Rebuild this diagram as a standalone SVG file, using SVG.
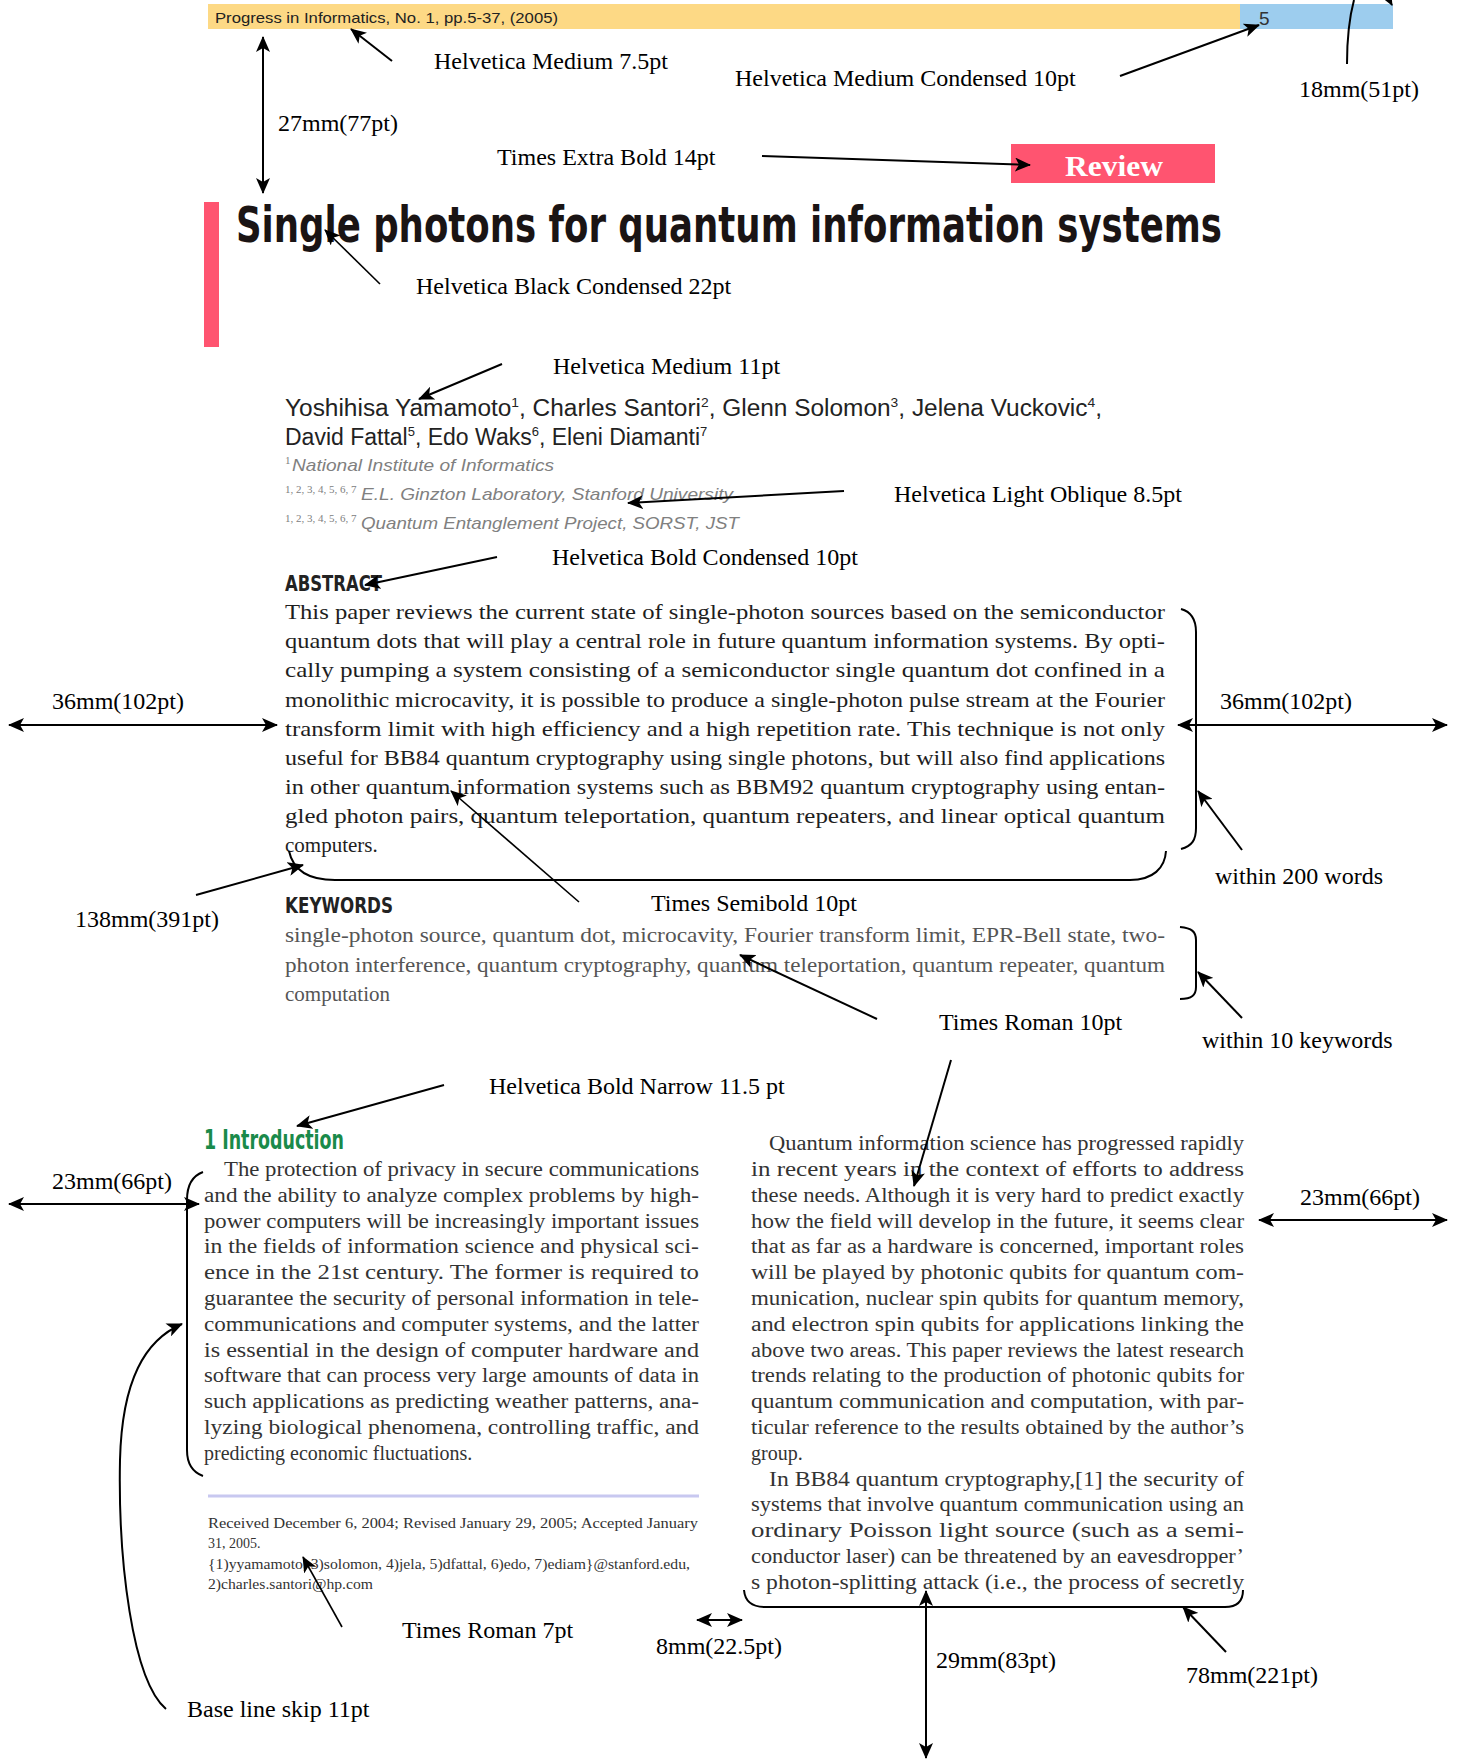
<svg xmlns="http://www.w3.org/2000/svg" width="1462" height="1760" viewBox="0 0 1462 1760">
<style>
.lbl{font-family:"Liberation Serif",serif;font-size:24px;fill:#000}
.ab{font-family:"Liberation Serif",serif;font-size:21px;fill:#1e1e1e}
.col{font-family:"Liberation Serif",serif;font-size:20px;fill:#333}
.kw{font-family:"Liberation Serif",serif;font-size:21px;fill:#555}
.fn{font-family:"Liberation Serif",serif;font-size:14px;fill:#333}
.hd{font-family:"Liberation Sans Narrow","DejaVu Sans Condensed","Liberation Sans",sans-serif;font-weight:bold}
.au{font-family:"Liberation Sans","Helvetica",sans-serif;font-size:23px;fill:#222}
.af{font-family:"Liberation Sans",sans-serif;font-size:17px;font-style:italic;fill:#808080}
.afn{font-family:"Liberation Serif",serif;font-size:11px;fill:#808080}
.ar{stroke:#000;stroke-width:2;fill:none;marker-end:url(#ah)}
.ar1{stroke:#000;stroke-width:1.6;fill:none;marker-end:url(#ah)}
.dbl{stroke:#000;stroke-width:2;fill:none;marker-start:url(#ah);marker-end:url(#ah)}
.br{stroke:#000;stroke-width:2;fill:none}
</style>
<defs>
<marker id="ah" markerUnits="userSpaceOnUse" markerWidth="18" markerHeight="14" refX="15" refY="7" orient="auto-start-reverse">
<path d="M0,0 L16,7 L0,14 L4,7 z" fill="#000"/>
</marker>
</defs>
<rect width="1462" height="1760" fill="#fff"/>

<g id="header">
<rect x="208" y="4" width="1032" height="25" fill="#fdd985"/>
<rect x="1240" y="4" width="153" height="25" fill="#9dcdee"/>
<text x="215" y="23" font-family="Liberation Sans,sans-serif" font-size="15" fill="#222" textLength="343" lengthAdjust="spacingAndGlyphs">Progress in Informatics, No. 1, pp.5-37, (2005)</text>
<text x="1259" y="25" font-family="Liberation Sans Narrow,Liberation Sans,sans-serif" font-size="19" fill="#333">5</text>
</g>

<g id="review">
<rect x="1011" y="144" width="204" height="39" fill="#ff5470"/>
<text x="1065" y="176" font-family="Liberation Serif,serif" font-weight="bold" font-size="30" fill="#fff" textLength="98" lengthAdjust="spacingAndGlyphs">Review</text>
</g>

<g id="title">
<rect x="204" y="202" width="15" height="145" fill="#ff5470"/>
<text class="hd" x="236" y="242" font-size="50" fill="#1a1414" textLength="986" lengthAdjust="spacingAndGlyphs">Single photons for quantum information systems</text>
</g>

<g id="authors">
<text class="au" x="285" y="416" textLength="817" lengthAdjust="spacingAndGlyphs">Yoshihisa Yamamoto<tspan font-size="13" dy="-9">1</tspan><tspan dy="9">, Charles Santori</tspan><tspan font-size="13" dy="-9">2</tspan><tspan dy="9">, Glenn Solomon</tspan><tspan font-size="13" dy="-9">3</tspan><tspan dy="9">, Jelena Vuckovic</tspan><tspan font-size="13" dy="-9">4</tspan><tspan dy="9">,</tspan></text>
<text class="au" x="285" y="445">David Fattal<tspan font-size="13" dy="-9">5</tspan><tspan dy="9">, Edo Waks</tspan><tspan font-size="13" dy="-9">6</tspan><tspan dy="9">, Eleni Diamanti</tspan><tspan font-size="13" dy="-9">7</tspan></text>
</g>

<g id="affiliations">
<text class="afn" x="285" y="464">1</text>
<text class="af" x="292" y="471" textLength="262" lengthAdjust="spacingAndGlyphs">National Institute of Informatics</text>
<text class="afn" x="285" y="493">1, 2, 3, 4, 5, 6, 7</text>
<text class="af" x="361" y="500" textLength="372" lengthAdjust="spacingAndGlyphs">E.L. Ginzton Laboratory, Stanford University</text>
<text class="afn" x="285" y="522">1, 2, 3, 4, 5, 6, 7</text>
<text class="af" x="361" y="529" textLength="378" lengthAdjust="spacingAndGlyphs">Quantum Entanglement Project, SORST, JST</text>
</g>

<g id="abstract">
<text class="hd" x="285" y="591" font-size="22" fill="#222" textLength="97" lengthAdjust="spacingAndGlyphs">ABSTRACT</text>
<text class="ab" x="285" y="619" textLength="880" lengthAdjust="spacingAndGlyphs">This paper reviews the current state of single-photon sources based on the semiconductor</text>
<text class="ab" x="285" y="648" textLength="880" lengthAdjust="spacingAndGlyphs">quantum dots that will play a central role in future quantum information systems. By opti-</text>
<text class="ab" x="285" y="677" textLength="880" lengthAdjust="spacingAndGlyphs">cally pumping a system consisting of a semiconductor single quantum dot confined in a</text>
<text class="ab" x="285" y="707" textLength="880" lengthAdjust="spacingAndGlyphs">monolithic microcavity, it is possible to produce a single-photon pulse stream at the Fourier</text>
<text class="ab" x="285" y="736" textLength="880" lengthAdjust="spacingAndGlyphs">transform limit with high efficiency and a high repetition rate. This technique is not only</text>
<text class="ab" x="285" y="765" textLength="880" lengthAdjust="spacingAndGlyphs">useful for BB84 quantum cryptography using single photons, but will also find applications</text>
<text class="ab" x="285" y="794" textLength="880" lengthAdjust="spacingAndGlyphs">in other quantum information systems such as BBM92 quantum cryptography using entan-</text>
<text class="ab" x="285" y="823" textLength="880" lengthAdjust="spacingAndGlyphs">gled photon pairs, quantum teleportation, quantum repeaters, and linear optical quantum</text>
<text class="ab" x="285" y="852">computers.</text>
</g>

<g id="keywords">
<text class="hd" x="285" y="913" font-size="22" fill="#222" textLength="108" lengthAdjust="spacingAndGlyphs">KEYWORDS</text>
<text class="kw" x="285" y="942" textLength="880" lengthAdjust="spacingAndGlyphs">single-photon source, quantum dot, microcavity, Fourier transform limit, EPR-Bell state, two-</text>
<text class="kw" x="285" y="972" textLength="880" lengthAdjust="spacingAndGlyphs">photon interference, quantum cryptography, quantum teleportation, quantum repeater, quantum</text>
<text class="kw" x="285" y="1001">computation</text>
</g>

<g id="intro-left">
<text class="hd" x="204" y="1149" font-size="26" fill="#1a8a4a" textLength="140" lengthAdjust="spacingAndGlyphs">1 Introduction</text>
<text class="col" x="224" y="1176" textLength="475" lengthAdjust="spacingAndGlyphs">The protection of privacy in secure communications</text>
<text class="col" x="204" y="1202" textLength="495" lengthAdjust="spacingAndGlyphs">and the ability to analyze complex problems by high-</text>
<text class="col" x="204" y="1228" textLength="495" lengthAdjust="spacingAndGlyphs">power computers will be increasingly important issues</text>
<text class="col" x="204" y="1253" textLength="495" lengthAdjust="spacingAndGlyphs">in the fields of information science and physical sci-</text>
<text class="col" x="204" y="1279" textLength="495" lengthAdjust="spacingAndGlyphs">ence in the 21st century. The former is required to</text>
<text class="col" x="204" y="1305" textLength="495" lengthAdjust="spacingAndGlyphs">guarantee the security of personal information in tele-</text>
<text class="col" x="204" y="1331" textLength="495" lengthAdjust="spacingAndGlyphs">communications and computer systems, and the latter</text>
<text class="col" x="204" y="1357" textLength="495" lengthAdjust="spacingAndGlyphs">is essential in the design of computer hardware and</text>
<text class="col" x="204" y="1382" textLength="495" lengthAdjust="spacingAndGlyphs">software that can process very large amounts of data in</text>
<text class="col" x="204" y="1408" textLength="495" lengthAdjust="spacingAndGlyphs">such applications as predicting weather patterns, ana-</text>
<text class="col" x="204" y="1434" textLength="495" lengthAdjust="spacingAndGlyphs">lyzing biological phenomena, controlling traffic, and</text>
<text class="col" x="204" y="1460">predicting economic fluctuations.</text>
</g>

<g id="footnote">
<line x1="208" y1="1496" x2="699" y2="1496" stroke="#c8c8f0" stroke-width="3"/>
<text class="fn" x="208" y="1528" textLength="490" lengthAdjust="spacingAndGlyphs">Received December 6, 2004; Revised January 29, 2005; Accepted January</text>
<text class="fn" x="208" y="1548">31, 2005.</text>
<text class="fn" x="208" y="1569" textLength="482" lengthAdjust="spacingAndGlyphs">{1)yyamamoto, 3)solomon, 4)jela, 5)dfattal, 6)edo, 7)ediam}@stanford.edu,</text>
<text class="fn" x="208" y="1589" textLength="165" lengthAdjust="spacingAndGlyphs">2)charles.santori@hp.com</text>
</g>

<g id="intro-right">
<text class="col" x="769" y="1150" textLength="475" lengthAdjust="spacingAndGlyphs">Quantum information science has progressed rapidly</text>
<text class="col" x="751" y="1176" textLength="493" lengthAdjust="spacingAndGlyphs">in recent years in the context of efforts to address</text>
<text class="col" x="751" y="1202" textLength="493" lengthAdjust="spacingAndGlyphs">these needs. Although it is very hard to predict exactly</text>
<text class="col" x="751" y="1228" textLength="493" lengthAdjust="spacingAndGlyphs">how the field will develop in the future, it seems clear</text>
<text class="col" x="751" y="1253" textLength="493" lengthAdjust="spacingAndGlyphs">that as far as a hardware is concerned, important roles</text>
<text class="col" x="751" y="1279" textLength="493" lengthAdjust="spacingAndGlyphs">will be played by photonic qubits for quantum com-</text>
<text class="col" x="751" y="1305" textLength="493" lengthAdjust="spacingAndGlyphs">munication, nuclear spin qubits for quantum memory,</text>
<text class="col" x="751" y="1331" textLength="493" lengthAdjust="spacingAndGlyphs">and electron spin qubits for applications linking the</text>
<text class="col" x="751" y="1357" textLength="493" lengthAdjust="spacingAndGlyphs">above two areas. This paper reviews the latest research</text>
<text class="col" x="751" y="1382" textLength="493" lengthAdjust="spacingAndGlyphs">trends relating to the production of photonic qubits for</text>
<text class="col" x="751" y="1408" textLength="493" lengthAdjust="spacingAndGlyphs">quantum communication and computation, with par-</text>
<text class="col" x="751" y="1434" textLength="493" lengthAdjust="spacingAndGlyphs">ticular reference to the results obtained by the author’s</text>
<text class="col" x="751" y="1460">group.</text>
<text class="col" x="769" y="1486" textLength="475" lengthAdjust="spacingAndGlyphs">In BB84 quantum cryptography,[1] the security of</text>
<text class="col" x="751" y="1511" textLength="493" lengthAdjust="spacingAndGlyphs">systems that involve quantum communication using an</text>
<text class="col" x="751" y="1537" textLength="493" lengthAdjust="spacingAndGlyphs">ordinary Poisson light source (such as a semi-</text>
<text class="col" x="751" y="1563" textLength="493" lengthAdjust="spacingAndGlyphs">conductor laser) can be threatened by an eavesdropper’</text>
<text class="col" x="751" y="1589" textLength="493" lengthAdjust="spacingAndGlyphs">s photon-splitting attack (i.e., the process of secretly</text>
</g>

<g id="labels">
<text class="lbl" x="434" y="69">Helvetica Medium 7.5pt</text>
<text class="lbl" x="735" y="86">Helvetica Medium Condensed 10pt</text>
<text class="lbl" x="1299" y="97">18mm(51pt)</text>
<text class="lbl" x="278" y="131">27mm(77pt)</text>
<text class="lbl" x="497" y="165">Times Extra Bold 14pt</text>
<text class="lbl" x="416" y="294">Helvetica Black Condensed 22pt</text>
<text class="lbl" x="553" y="374">Helvetica Medium 11pt</text>
<text class="lbl" x="894" y="502">Helvetica Light Oblique 8.5pt</text>
<text class="lbl" x="552" y="565">Helvetica Bold Condensed 10pt</text>
<text class="lbl" x="52" y="709">36mm(102pt)</text>
<text class="lbl" x="1220" y="709">36mm(102pt)</text>
<text class="lbl" x="1215" y="884">within 200 words</text>
<text class="lbl" x="651" y="911">Times Semibold 10pt</text>
<text class="lbl" x="75" y="927">138mm(391pt)</text>
<text class="lbl" x="939" y="1030">Times Roman 10pt</text>
<text class="lbl" x="1202" y="1048">within 10 keywords</text>
<text class="lbl" x="489" y="1094">Helvetica Bold Narrow 11.5 pt</text>
<text class="lbl" x="52" y="1189">23mm(66pt)</text>
<text class="lbl" x="1300" y="1205">23mm(66pt)</text>
<text class="lbl" x="402" y="1638">Times Roman 7pt</text>
<text class="lbl" x="656" y="1654">8mm(22.5pt)</text>
<text class="lbl" x="936" y="1668">29mm(83pt)</text>
<text class="lbl" x="1186" y="1683">78mm(221pt)</text>
<text class="lbl" x="187" y="1717">Base line skip 11pt</text>
</g>

<g id="connectors">
<line class="ar" x1="392" y1="61" x2="351" y2="29"/>
<line class="ar" x1="1120" y1="76" x2="1259" y2="25"/>
<path class="br" d="M1347,64 C1347,35 1350,15 1354,0"/>
<line class="ar1" x1="1386" y1="-6" x2="1392" y2="5"/>
<line class="dbl" x1="263" y1="37" x2="263" y2="193"/>
<line class="ar" x1="762" y1="156" x2="1030" y2="165"/>
<line class="ar1" x1="380" y1="284" x2="325" y2="230"/>
<line class="ar" x1="502" y1="364" x2="419" y2="399"/>
<line class="ar" x1="844" y1="491" x2="628" y2="503"/>
<line class="ar" x1="497" y1="557" x2="365" y2="585"/>
<line class="dbl" x1="9" y1="725" x2="277" y2="725"/>
<line class="dbl" x1="1178" y1="725" x2="1447" y2="725"/>
<path class="br" d="M1181,609 C1192,612 1196,620 1196,632 L1196,828 C1196,840 1192,846 1181,849"/>
<line class="ar" x1="1242" y1="850" x2="1198" y2="791"/>
<path class="br" d="M289,851 C293,870 308,880 335,880 L1130,880 C1153,880 1165,868 1166,851"/>
<line class="ar" x1="196" y1="895" x2="303" y2="865"/>
<line class="ar1" x1="579" y1="902" x2="451" y2="791"/>
<path class="br" d="M1180,927 C1192,928 1196,932 1196,940 L1196,987 C1196,995 1192,999 1180,999"/>
<line class="ar" x1="1242" y1="1018" x2="1198" y2="972"/>
<line class="ar" x1="877" y1="1019" x2="740" y2="955"/>
<line class="ar" x1="951" y1="1060" x2="914" y2="1186"/>
<line class="ar" x1="444" y1="1085" x2="297" y2="1126"/>
<path class="br" d="M203,1172 C192,1176 187,1186 187,1200 L187,1450 C187,1464 192,1472 203,1476"/>
<line class="dbl" x1="9" y1="1204" x2="199" y2="1204"/>
<line class="dbl" x1="1259" y1="1220" x2="1447" y2="1220"/>
<path class="ar" d="M166,1709 C132,1680 118,1560 120,1460 C122,1380 145,1340 182,1324"/>
<line class="ar1" x1="342" y1="1627" x2="303" y2="1557"/>
<line class="dbl" x1="697" y1="1620" x2="742" y2="1620"/>
<path class="br" d="M744,1590 C745,1602 752,1607 765,1607 L1225,1607 C1237,1607 1243,1602 1243,1590"/>
<line class="dbl" x1="926" y1="1591" x2="926" y2="1758"/>
<line class="ar" x1="1226" y1="1652" x2="1183" y2="1607"/>
</g>
</svg>
